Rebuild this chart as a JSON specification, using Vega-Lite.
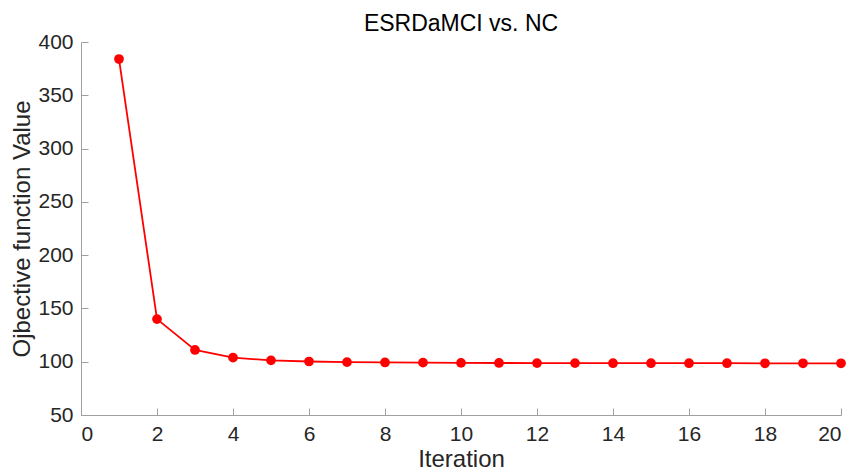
{
  "$schema": "https://vega.github.io/schema/vega-lite/v6.json",
  "autosize": {"type": "none"},
  "width": 760,
  "height": 373,
  "padding": {"left": 81, "top": 42, "right": 14, "bottom": 55},
  "background": "white",
  "title": {"text": "ESRDaMCI vs. NC", "font": "Liberation Sans", "fontSize": 23, "fontWeight": "normal", "color": "#000000", "offset": -5, "frame": "group"},
  "config": {"view": {"stroke": null}},
  "data": {"values": [
    {"iter": 1, "val": 384},
    {"iter": 2, "val": 140},
    {"iter": 3, "val": 111},
    {"iter": 4, "val": 103.8},
    {"iter": 5, "val": 101.3},
    {"iter": 6, "val": 100.2},
    {"iter": 7, "val": 99.6},
    {"iter": 8, "val": 99.3},
    {"iter": 9, "val": 99.1},
    {"iter": 10, "val": 98.9},
    {"iter": 11, "val": 98.8},
    {"iter": 12, "val": 98.7},
    {"iter": 13, "val": 98.7},
    {"iter": 14, "val": 98.6},
    {"iter": 15, "val": 98.6},
    {"iter": 16, "val": 98.6},
    {"iter": 17, "val": 98.6},
    {"iter": 18, "val": 98.5},
    {"iter": 19, "val": 98.5},
    {"iter": 20, "val": 98.5}
  ]},
  "encoding": {
    "x": {"field": "iter", "type": "quantitative", "scale": {"domain": [0, 20], "nice": false},
      "axis": {"title": "Iteration", "values": [0,2,4,6,8,10,12,14,16,18,20], "grid": false,
        "domainColor": "#a0a0a0", "tickColor": "#a0a0a0", "tickSize": -7, "labelPadding": 15,
        "labelFont": "Liberation Sans", "labelFontSize": 21, "labelColor": "#262626",
        "titleFont": "Liberation Sans", "titleFontSize": 24, "titleFontWeight": "normal", "titleColor": "#262626", "titlePadding": 3}},
    "y": {"field": "val", "type": "quantitative", "scale": {"domain": [50, 400], "nice": false, "zero": false},
      "axis": {"title": "Ojbective function Value", "values": [50,100,150,200,250,300,350,400], "grid": false,
        "domainColor": "#a0a0a0", "tickColor": "#a0a0a0", "tickSize": -7, "labelPadding": 15,
        "labelFont": "Liberation Sans", "labelFontSize": 21, "labelColor": "#262626",
        "titleFont": "Liberation Sans", "titleFontSize": 24, "titleFontWeight": "normal", "titleColor": "#262626", "titlePadding": 3}}
  },
  "layer": [
    {"mark": {"type": "line", "color": "#ff0000", "strokeWidth": 1.8}},
    {"mark": {"type": "point", "filled": true, "color": "#ff0000", "opacity": 1, "size": 95}}
  ]
}
